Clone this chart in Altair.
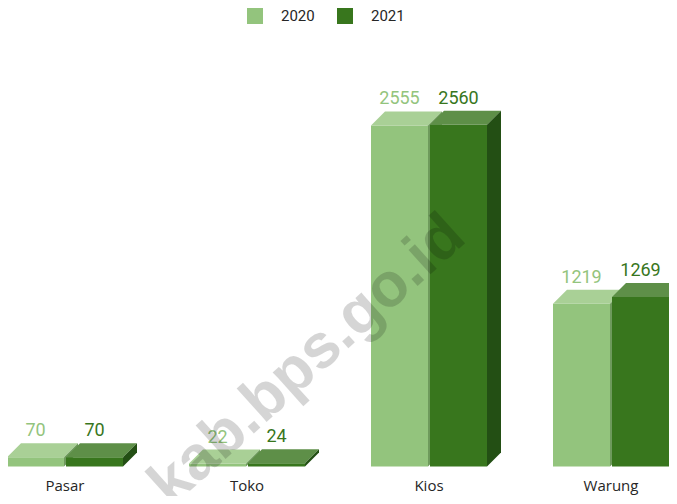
import altair as alt
import pandas as pd

# ---- data ----
categories = ["Pasar", "Toko", "Kios", "Warung"]
years = ["2020", "2021"]
values_2020 = [70, 22, 2555, 1219]
values_2021 = [70, 24, 2560, 1269]

# ---- styles ----
front_colors = ["#93c47d", "#38761d"]
top_colors = ["#a9d096", "#5e8f48"]
side_colors = ["#6e9a5c", "#234f14"]
label_colors = ["#93c47d", "#38761d"]

# ---- geometry (pixels -> data units) ----
W, H = 661, 488
PX_PER_CAT = 182.0
X0_PX = 57.0
KY = 0.1335
BASE_PX = 458.5
x_dom = [-X0_PX / PX_PER_CAT, (W - X0_PX) / PX_PER_CAT]
y_dom = [-(H - BASE_PX) / KY, BASE_PX / KY]
DX = 14 / PX_PER_CAT
DY = 14 / KY
HALF = 58 / PX_PER_CAT
GAP = 1 / PX_PER_CAT

xs = alt.Scale(domain=x_dom, nice=False, zero=False)
ys = alt.Scale(domain=y_dom, nice=False, zero=False)

layers = []
series = [values_2020, values_2021]
for s, vals in enumerate(series):
    front_rows, top_rows, side_rows, lab_rows = [], [], [], []
    for i, v in enumerate(vals):
        if s == 0:
            x0, x1 = i - HALF, i - GAP
        else:
            x0, x1 = i + GAP, i + HALF
        front_rows.append({"x0": x0, "x1": x1, "zero": 0, "v": v, "year": years[s]})
        bid = f"{s}-{i}"
        top_rows += [
            {"id": bid, "x": x0, "lo": v, "hi": v},
            {"id": bid, "x": x0 + DX, "lo": v, "hi": v + DY},
            {"id": bid, "x": x1, "lo": v, "hi": v + DY},
            {"id": bid, "x": x1 + DX, "lo": v + DY, "hi": v + DY},
        ]
        side_rows += [
            {"id": bid, "x": x1, "lo": 0, "hi": v},
            {"id": bid, "x": x1 + DX, "lo": DY, "hi": v + DY},
        ]
        lab_rows.append({"xc": (x0 + x1) / 2, "ytop": v + DY, "lab": str(v)})

    front = alt.Chart(pd.DataFrame(front_rows)).mark_bar(strokeWidth=0).encode(
        x=alt.X("x0:Q", scale=xs, axis=None),
        x2="x1:Q",
        y=alt.Y("zero:Q", scale=ys, axis=None),
        y2="v:Q",
        color=alt.Color(
            "year:N",
            scale=alt.Scale(domain=years, range=front_colors),
            legend=alt.Legend(
                title=None, orient="none", legendX=239, legendY=0,
                direction="horizontal", symbolType="square", symbolSize=256,
                symbolStrokeWidth=0, labelFont="Roboto", labelFontSize=15,
                labelColor="#262626", labelOffset=18, columnPadding=22, padding=0,
            ),
        ),
    )
    top = alt.Chart(pd.DataFrame(top_rows)).mark_area(
        color=top_colors[s], orient="vertical", interpolate="linear"
    ).encode(
        x=alt.X("x:Q", scale=xs, axis=None),
        y=alt.Y("lo:Q", scale=ys, axis=None),
        y2="hi:Q",
        detail="id:N",
    )
    side = alt.Chart(pd.DataFrame(side_rows)).mark_area(
        color=side_colors[s], orient="vertical", interpolate="linear"
    ).encode(
        x=alt.X("x:Q", scale=xs, axis=None),
        y=alt.Y("lo:Q", scale=ys, axis=None),
        y2="hi:Q",
        detail="id:N",
    )
    labels = alt.Chart(pd.DataFrame(lab_rows)).mark_text(
        font="Roboto", fontSize=18, color=label_colors[s], baseline="alphabetic", dy=-7
    ).encode(
        x=alt.X("xc:Q", scale=xs, axis=None),
        y=alt.Y("ytop:Q", scale=ys, axis=None),
        text="lab:N",
    )
    layers += [front, top, side, labels]

cat_df = pd.DataFrame({"idx": list(range(len(categories))), "cat": categories})
cat_labels = alt.Chart(cat_df).mark_text(
    font="Open Sans", fontSize=15, color="#262626", baseline="alphabetic"
).encode(
    x=alt.X("idx:Q", scale=xs, axis=None),
    y=alt.value(483),
    text="cat:N",
)

watermark = alt.Chart(pd.DataFrame({"t": ["kab.bps.go.id"]})).mark_text(
    font="Liberation Sans", fontWeight="bold", fontSize=62, angle=318,
    color="#000000", opacity=0.16, align="center", baseline="middle",
).encode(x=alt.value(299), y=alt.value(352), text="t:N")

chart = alt.layer(*layers, cat_labels, watermark).properties(
    width=W, height=H, autosize=alt.AutoSizeParams(type="none"), padding=0
).configure_view(stroke=None)

chart.save("out.html", embed_options={"renderer": "svg", "actions": False})
